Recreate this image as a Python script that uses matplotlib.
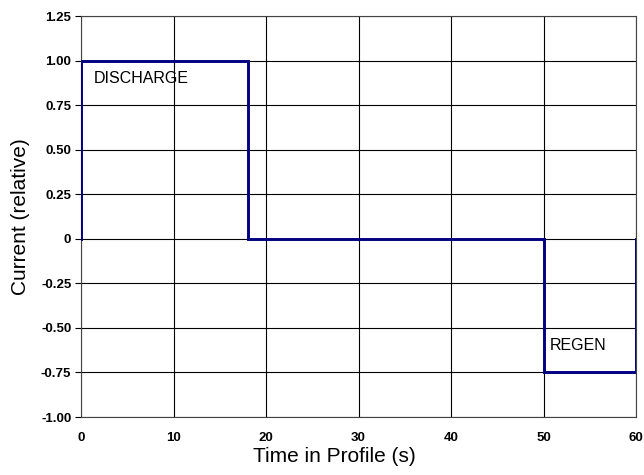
import matplotlib
matplotlib.use("Agg")
import matplotlib.pyplot as plt

plt.rcParams['font.family'] = ['Liberation Sans', 'DejaVu Sans']

# step profile
t = [0, 0, 18, 18, 50, 50, 60, 60]
current = [0, 1.0, 1.0, 0, 0, -0.75, -0.75, 0]
xticks = [0, 10, 20, 30, 40, 50, 60]
yticks = [1.25, 1.00, 0.75, 0.50, 0.25, 0, -0.25, -0.50, -0.75, -1.00]
ylabels = ["1.25", "1.00", "0.75", "0.50", "0.25", "0", "-0.25", "-0.50", "-0.75", "-1.00"]

fig = plt.figure(figsize=(6.44, 4.75), dpi=100)
ax = fig.add_axes([0.1258, 0.1221, 0.8618, 0.8442])

ax.plot(t, current, color="#000080", lw=2.1, solid_joinstyle="miter", zorder=3)

ax.set_xlim(0, 60)
ax.set_ylim(-1.0, 1.25)
ax.set_xticks(xticks)
ax.set_xticklabels([str(v) for v in xticks], fontsize=9.5, fontweight="bold")
ax.set_yticks(yticks)
ax.set_yticklabels(ylabels, fontsize=9.5, fontweight="bold")
ax.tick_params(axis="x", length=0, pad=11)
ax.tick_params(axis="y", length=4, width=0.8, pad=3)
ax.grid(True, color="black", lw=0.8)
for s in ax.spines.values():
    s.set_linewidth(0.8)
    s.set_color("#444444")

ax.text(1.4, 0.90, "DISCHARGE", fontsize=11.5, va="center")
ax.text(50.7, -0.60, "REGEN", fontsize=11.5, va="center")

ax.set_xlabel("Time in Profile (s)", fontsize=15, labelpad=4)
ax.xaxis.set_label_coords(0.457, -0.075)
ax.set_ylabel("Current (relative)", fontsize=15, labelpad=8)

fig.savefig("out.png", dpi=100)
